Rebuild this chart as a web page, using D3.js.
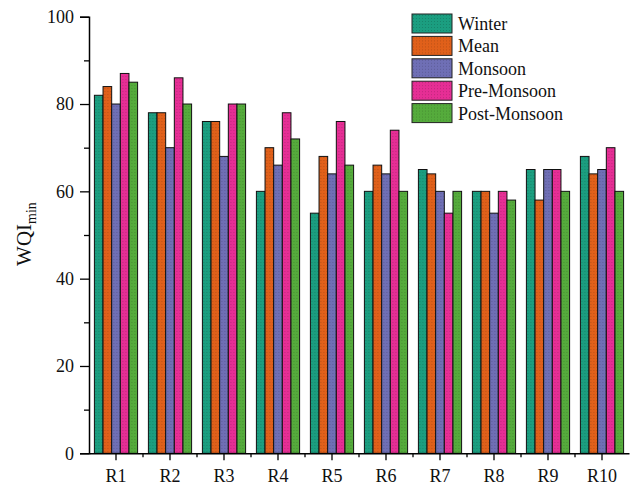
<!DOCTYPE html>
<html>
<head>
<meta charset="utf-8">
<script src="https://cdn.jsdelivr.net/npm/d3@7"></script>
<style>
  body { margin: 0; background: #fff; }
  svg { display: block; font-family: "Liberation Serif", "Times New Roman", serif; }
</style>
</head>
<body>
<svg id="chart" width="632" height="486"></svg>
<script>
// sites and seasons
const sites = ["R1", "R2", "R3", "R4", "R5", "R6", "R7", "R8", "R9", "R10"];
const seasons = ["Winter", "Mean", "Monsoon", "Pre-Monsoon", "Post-Monsoon"];
const colors = ["#1b9e80", "#e0601a", "#6f6fb5", "#e62e95", "#55ab3c"];

// WQI min values per season
const winter      = [82, 78, 76, 60, 55, 60, 65, 60, 65, 68];
const mean        = [84, 78, 76, 70, 68, 66, 64, 60, 58, 64];
const monsoon     = [80, 70, 68, 66, 64, 64, 60, 55, 65, 65];
const preMonsoon  = [87, 86, 80, 78, 76, 74, 55, 60, 65, 70];
const postMonsoon = [85, 80, 80, 72, 66, 60, 60, 58, 60, 60];
const yTicks = [0, 20, 40, 60, 80, 100];

const series = [winter, mean, monsoon, preMonsoon, postMonsoon];
const rows = sites.map((s, i) => ({ site: s, vals: series.map((arr, k) => ({ key: seasons[k], v: arr[i] })) }));

const svg = d3.select("#chart");
const mLeft = 89, mRight = 629, mTop = 16.7, mBottom = 453.3;

const x = d3.scaleBand().domain(sites).range([mLeft, mRight]).paddingInner(0.2).paddingOuter(0.1);
const xs = d3.scaleBand().domain(seasons).range([0, x.bandwidth()]);
const y = d3.scaleLinear().domain([0, 100]).range([mBottom, mTop]);

// stipple texture like the original print
const defs = svg.append("defs");
colors.forEach((c, i) => {
  const p = defs.append("pattern").attr("id", "pat" + i)
    .attr("width", 3).attr("height", 3).attr("patternUnits", "userSpaceOnUse");
  p.append("rect").attr("width", 3).attr("height", 3).attr("fill", c);
  p.append("rect").attr("x", 1).attr("y", 1).attr("width", 0.8).attr("height", 0.8)
    .attr("fill", "#000").attr("opacity", 0.25);
});

// bars
svg.append("g").selectAll("g")
  .data(rows)
  .join("g")
  .attr("transform", d => `translate(${x(d.site)},0)`)
  .selectAll("rect")
  .data(d => d.vals)
  .join("rect")
  .attr("x", d => xs(d.key))
  .attr("y", d => y(d.v))
  .attr("width", xs.bandwidth())
  .attr("height", d => y(0) - y(d.v))
  .attr("fill", d => "url(#pat" + seasons.indexOf(d.key) + ")")
  .attr("stroke", "#111")
  .attr("stroke-width", 1);

// y axis
svg.append("g").attr("transform", `translate(${mLeft},0)`)
  .call(d3.axisLeft(y).tickValues(yTicks).tickSize(9).tickPadding(6));
svg.append("g").attr("transform", `translate(${mLeft},0)`)
  .call(d3.axisLeft(y).tickValues([10, 30, 50, 70, 90]).tickSize(5).tickFormat(""))
  .call(g => g.select(".domain").remove());

// x axis
svg.append("g").attr("transform", `translate(0,${mBottom})`)
  .call(d3.axisBottom(x).tickSize(7).tickPadding(9).tickSizeOuter(0));
const minor = sites.slice(1).map(s => x(s) - x.step() * x.paddingInner() / 2);
svg.append("g").selectAll("line")
  .data(minor)
  .join("line")
  .attr("x1", d => d).attr("x2", d => d)
  .attr("y1", mBottom).attr("y2", mBottom + 4)
  .attr("stroke", "#000").attr("stroke-width", 1.3);

svg.selectAll(".domain").attr("stroke", "#000").attr("stroke-width", 1.5);
svg.selectAll(".tick line").attr("stroke", "#000").attr("stroke-width", 1.3);
svg.selectAll(".tick text").attr("fill", "#111").style("font-size", "18px")
  .style("font-family", "Liberation Serif, serif");

// y label
svg.append("text")
  .attr("transform", `translate(31,234) rotate(-90)`)
  .attr("text-anchor", "middle")
  .style("font-size", "21px")
  .attr("fill", "#111")
  .call(t => {
    t.append("tspan").text("WQI");
    t.append("tspan").attr("dy", 5).style("font-size", "14px").text("min");
  });

// legend
const legend = svg.append("g").attr("transform", "translate(412,14)");
const items = legend.selectAll("g")
  .data(seasons)
  .join("g")
  .attr("transform", (d, i) => `translate(0,${i * 22.4})`);
items.append("rect")
  .attr("width", 40).attr("height", 19)
  .attr("fill", (d, i) => "url(#pat" + i + ")")
  .attr("stroke", "#222").attr("stroke-width", 1);
items.append("text")
  .attr("x", 46).attr("y", 16)
  .style("font-size", "18px")
  .attr("fill", "#111")
  .text(d => d);
</script>
</body>
</html>
